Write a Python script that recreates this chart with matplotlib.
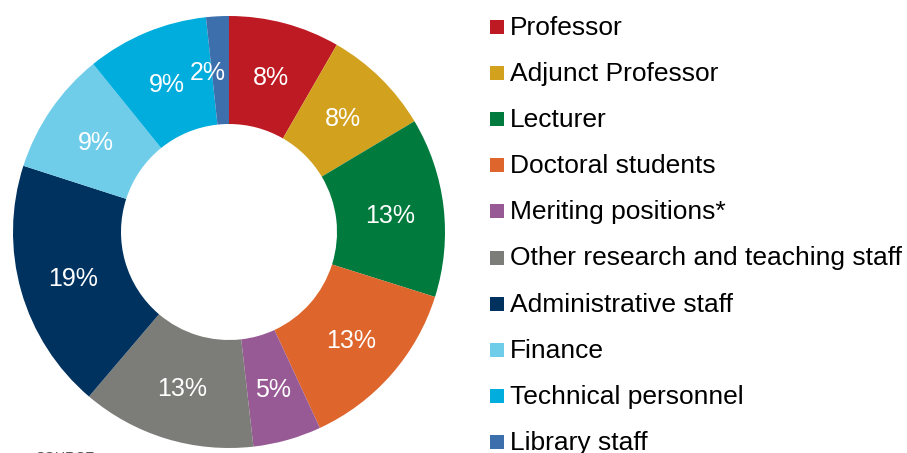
import matplotlib.pyplot as plt
from matplotlib.patches import Rectangle

plt.rcParams['font.family'] = ['Liberation Sans', 'DejaVu Sans']

# staff categories, clockwise from 12 o'clock
categories = ['Professor', 'Adjunct Professor', 'Lecturer', 'Doctoral students',
              'Meriting positions*', 'Other research and teaching staff',
              'Administrative staff', 'Finance', 'Technical personnel', 'Library staff']
shares = [8.3, 8.1, 13.4, 13.2, 5.1, 13.0, 18.7, 9.2, 9.1, 1.7]
colors = ['#BE1A24', '#D2A21F', '#007A3D', '#DE652B', '#975A94',
          '#7C7C78', '#00325F', '#70CDEA', '#00ADDC', '#3D6FAD']

W, H = 907, 453
fig = plt.figure(figsize=(W / 100, H / 100), dpi=100)

# donut: centre (229, 232) px, outer radius 216 px
cx, cy, R = 229, 232, 216
ax = fig.add_axes([(cx - R) / W, (H - cy - R) / H, 2 * R / W, 2 * R / H])
wedges, texts, autotexts = ax.pie(
    shares, colors=colors, startangle=90, counterclock=False,
    autopct=lambda p: '{:.0f}%'.format(p), pctdistance=0.75,
    wedgeprops=dict(width=0.5, linewidth=0),
    textprops=dict(color='white', fontsize=18))
for t in autotexts:
    t.set_va('center_baseline')
# the tiny library slice label sits a little to the left
x, y = autotexts[-1].get_position()
autotexts[-1].set_position((x - 0.06, y))
ax.set_xlim(-1, 1)
ax.set_ylim(-1, 1)
ax.set_aspect('equal')
ax.axis('off')

# legend drawn by hand to match spacing
row0, step = 16, 46.1
for i, (lab, col) in enumerate(zip(categories, colors)):
    top = row0 + step * i
    fig.patches.append(Rectangle((490 / W, 1 - (top + 18) / H), 14 / W, 14 / H,
                                 transform=fig.transFigure, facecolor=col,
                                 edgecolor='none'))
    fig.text(510 / W, 1 - (top + 19) / H, lab, fontsize=19, color='black',
             va='baseline', ha='left')

# source note cut off at the bottom edge
fig.text(35 / W, 1 - 451 / H, 'SOURCE', fontsize=10, color='#555555',
         va='top', ha='left')

fig.savefig('out.png', dpi=100)
